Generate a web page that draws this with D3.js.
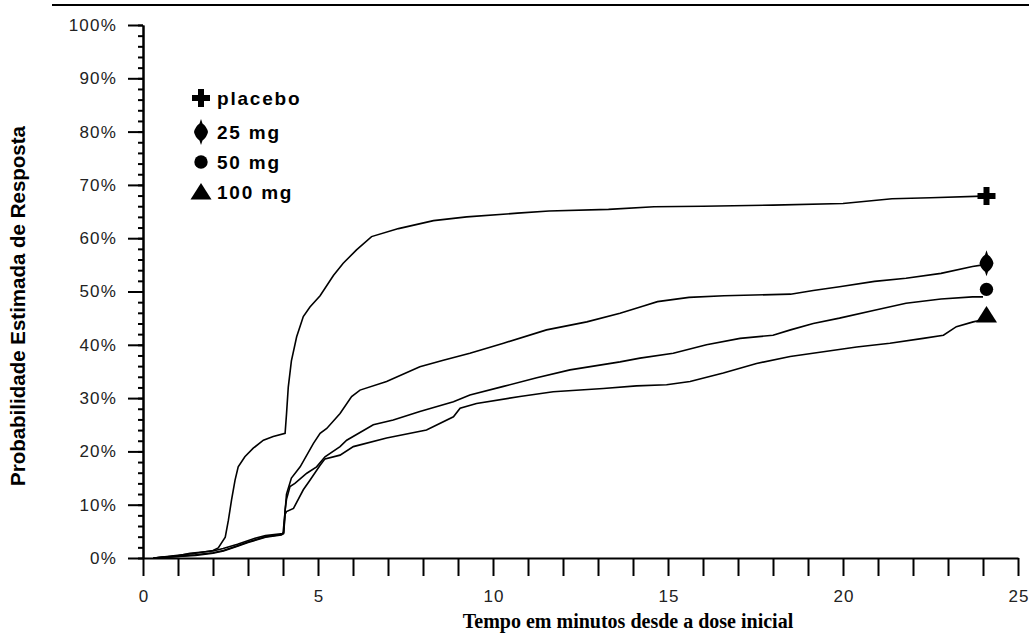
<!DOCTYPE html>
<html>
<head>
<meta charset="utf-8">
<script src="https://cdn.jsdelivr.net/npm/d3@7"></script>
<style>
  body { margin: 0; background: #fff; }
  svg { display: block; }
  .tick text { font-family: "Liberation Sans", Arial, sans-serif; fill: #222; letter-spacing: 1.2px; }
  .legend text { font-family: "Liberation Sans", Arial, sans-serif; font-weight: bold; font-size: 19px; letter-spacing: 1.8px; fill: #000; }
</style>
</head>
<body>
<section></section>
<script>
// global constants.
const width = 1029;
const height = 633;

// series: [minutes, percent]
const placebo = [
  [0.3, 0], [1, 0.5], [1.5, 0.9], [2, 1.4], [2.15, 1.9], [2.35, 3.9], [2.44, 7.1], [2.53, 10.9],
  [2.63, 14.6], [2.72, 17.1], [2.91, 19], [3.15, 20.6], [3.44, 22.1], [3.72, 22.8], [4.06, 23.4],
  [4.1, 27], [4.15, 32], [4.24, 37], [4.39, 41.5], [4.58, 45.3], [4.77, 47.1], [5.06, 49.2],
  [5.44, 53], [5.72, 55.3], [6.1, 57.8], [6.53, 60.3], [7.3, 61.8], [8.3, 63.3], [9.25, 64],
  [10.7, 64.7], [11.6, 65.1], [13.3, 65.4], [14.6, 65.9], [16, 66], [18, 66.2], [20, 66.5],
  [21.4, 67.4], [22.5, 67.6], [24, 67.9]
];
const mg25 = [
  [0.3, 0], [1, 0.4], [1.34, 0.9], [2, 1.3], [2.29, 1.8], [2.7, 2.6], [3.2, 3.7], [3.5, 4.2],
  [4.0, 4.6], [4.05, 8], [4.1, 12], [4.24, 15], [4.49, 17.1], [4.87, 21.5], [5.06, 23.4],
  [5.25, 24.3], [5.63, 27.1], [5.96, 30.3], [6.2, 31.5], [6.96, 33.1], [7.91, 35.9], [8.58, 37.1],
  [9.34, 38.4], [10.3, 40.3], [11.53, 42.8], [12.68, 44.3], [13.63, 45.9], [14.3, 47.3],
  [14.7, 48.1], [15.6, 48.9], [16.6, 49.2], [18.5, 49.5], [19.15, 50.2], [19.9, 50.9],
  [20.9, 51.9], [21.8, 52.5], [22.8, 53.4], [23.7, 54.7], [24, 55]
];
const mg50 = [
  [0.3, 0], [1, 0.3], [1.5, 0.6], [2, 1.0], [2.3, 1.4], [2.7, 2.3], [3.0, 3.0], [3.5, 4.0],
  [3.95, 4.4], [4.02, 4.8], [4.06, 9], [4.1, 11], [4.2, 13.4], [4.34, 14], [4.68, 15.9],
  [4.96, 17.1], [5.2, 19], [5.63, 20.9], [5.82, 22.1], [6.58, 25], [7.15, 25.9], [7.91, 27.5],
  [8.87, 29.3], [9.34, 30.6], [10.3, 32.2], [11.25, 33.8], [12.2, 35.3], [13.63, 36.8],
  [14.2, 37.5], [15.15, 38.4], [16.1, 40], [17.06, 41.2], [18.0, 41.8], [18.5, 42.8],
  [19.15, 44], [19.9, 45], [20.9, 46.5], [21.8, 47.8], [22.8, 48.6], [23.7, 49], [24, 49]
];
const mg100 = [
  [0.3, 0], [1, 0.3], [1.5, 0.5], [2, 0.9], [2.3, 1.3], [2.7, 2.2], [3.0, 2.9], [3.5, 3.9],
  [3.95, 4.3], [4.02, 4.6], [4.06, 8.2], [4.1, 8.7], [4.3, 9.3], [4.58, 12.8], [4.77, 14.6],
  [5.06, 17.4], [5.2, 18.6], [5.63, 19.3], [6.01, 20.9], [6.96, 22.5], [8.1, 24], [8.87, 26.5],
  [9.06, 28.1], [9.53, 29], [10.77, 30.3], [11.72, 31.2], [13.15, 31.8], [14.1, 32.3],
  [14.96, 32.5], [15.63, 33.1], [16.58, 34.7], [17.53, 36.5], [18.49, 37.8], [19.44, 38.7],
  [20.39, 39.6], [21.34, 40.3], [22.29, 41.2], [22.87, 41.8], [23.24, 43.4], [23.72, 44.3],
  [24, 44.7]
];

const seriesNames = ['placebo', '25 mg', '50 mg', '100 mg'];
const seriesData = [placebo, mg25, mg50, mg100];
const markerTime = 24.1;
const markerValues = [67.9, 55.3, 50.4, 45.6];

const xTicks = d3.range(0, 26, 1);
const yMajorTicks = d3.range(0, 101, 10);
const yMinorTicks = d3.range(0, 101, 2);

// marker shapes
const shapes = [
  'M-3,-9H3V-3H9V3H3V9H-3V3H-9V-3H-3Z',
  'M0,-13L1.5,-8.5Q6,-5 7,0Q6,5 1.5,8.5L0,13L-1.5,8.5Q-6,5 -7,0Q-6,-5 -1.5,-8.5Z',
  d3.symbol(d3.symbolCircle, 140)(),
  'M0,-9L10.5,7.5L-10.5,7.5Z'
];

const svg = d3.select('section')
  .append('svg')
  .attr('width', width)
  .attr('height', height);

const xScale = d3.scaleLinear().domain([0, 25]).range([143, 1018]);
const yScale = d3.scaleLinear().domain([0, 100]).range([558, 25]);

// top rule
svg.append('line')
  .attr('x1', 52).attr('x2', width)
  .attr('y1', 5).attr('y2', 5)
  .attr('stroke', '#000').attr('stroke-width', 2);

// y axis: minor ticks, then major ticks with labels
svg.append('g')
  .attr('transform', `translate(${xScale(0)}, 0)`)
  .call(d3.axisLeft(yScale).tickValues(yMinorTicks).tickSize(5).tickSizeOuter(0).tickFormat(''))
  .call((g) => g.selectAll('line, path').attr('stroke-width', 2));

svg.append('g')
  .attr('transform', `translate(${xScale(0)}, 0)`)
  .call(d3.axisLeft(yScale).tickValues(yMajorTicks).tickSize(15).tickSizeOuter(0)
    .tickPadding(11).tickFormat((d) => d + '%'))
  .call((g) => g.selectAll('line, path').attr('stroke-width', 2))
  .call((g) => g.selectAll('text').attr('font-size', 17));

// x axis
svg.append('g')
  .attr('transform', `translate(0, ${yScale(0)})`)
  .call(d3.axisBottom(xScale).tickValues(xTicks).tickSize(18).tickSizeOuter(0)
    .tickPadding(14).tickFormat((d) => d % 5 === 0 ? d : ''))
  .call((g) => g.selectAll('line, path').attr('stroke-width', 2))
  .call((g) => g.selectAll('text').attr('font-size', 17).attr('dx', '0.6px'));

// axis titles
svg.append('text')
  .attr('transform', 'translate(25, 306) rotate(-90)')
  .attr('text-anchor', 'middle')
  .attr('font-family', '"Liberation Sans", Arial, sans-serif')
  .attr('font-weight', 'bold')
  .attr('font-size', 20.5)
  .text('Probabilidade Estimada de Resposta');

svg.append('text')
  .attr('x', 628)
  .attr('y', 628)
  .attr('text-anchor', 'middle')
  .attr('font-family', '"Liberation Serif", "Times New Roman", serif')
  .attr('font-weight', 'bold')
  .attr('font-size', 20)
  .text('Tempo em minutos desde a dose inicial');

// curves
const line = d3.line()
  .x((d) => xScale(d[0]))
  .y((d) => yScale(d[1]));

svg.append('g')
  .selectAll('path')
  .data(seriesData)
  .enter()
  .append('path')
  .attr('d', line)
  .attr('fill', 'none')
  .attr('stroke', '#000')
  .attr('stroke-width', 1.6);

// end markers
svg.append('g')
  .selectAll('path')
  .data(markerValues)
  .enter()
  .append('path')
  .attr('d', (d, i) => shapes[i])
  .attr('transform', (d) => `translate(${xScale(markerTime)}, ${yScale(d)})`)
  .attr('fill', '#000');

// legend
const legendY = [98, 132, 162, 192];
const legend = svg.append('g')
  .attr('class', 'legend')
  .selectAll('g')
  .data(seriesNames)
  .enter()
  .append('g')
  .attr('transform', (d, i) => `translate(201, ${legendY[i]})`);

legend.append('path')
  .attr('d', (d, i) => shapes[i])
  .attr('fill', '#000');

legend.append('text')
  .attr('x', 16)
  .attr('y', 7)
  .text((d) => d);
</script>
</body>
</html>
